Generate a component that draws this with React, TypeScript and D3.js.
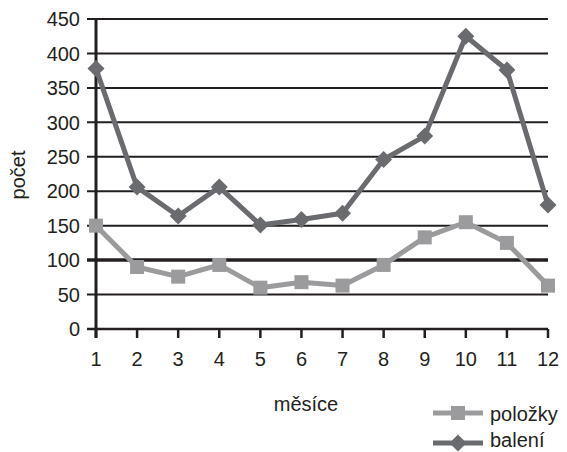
import React from "react";
import * as d3 from "d3";

const months = [1, 2, 3, 4, 5, 6, 7, 8, 9, 10, 11, 12];
const polozky = [150, 90, 76, 93, 60, 68, 63, 93, 133, 155, 125, 63];
const baleni = [378, 206, 164, 206, 151, 159, 168, 246, 280, 425, 376, 180];
const yTicks = [0, 50, 100, 150, 200, 250, 300, 350, 400, 450];

const W = 567;
const H = 452;
const left = 96;
const right = 548;
const top = 19;
const bottom = 329;
const font = "'Liberation Sans', Arial, sans-serif";
const fs = 20;
const cLight = "#9b9b9d";
const cDark = "#6a6b6e";
const cGrid = "#231f20";

export default function App() {
  const x = d3.scaleLinear().domain([1, 12]).range([left, right]);
  const y = d3.scaleLinear().domain([0, 450]).range([bottom, top]);
  const line = d3
    .line<number>()
    .x((_, i) => x(months[i]))
    .y((d) => y(d));

  return (
    <svg
      width={W}
      height={H}
      style={{ position: "absolute", left: 0, top: 0, background: "#fff" }}
    >
      {yTicks.map((t) => (
        <g key={t}>
          <line
            x1={87}
            x2={right}
            y1={y(t)}
            y2={y(t)}
            stroke={cGrid}
            strokeWidth={t === 100 ? 3.5 : t === 0 ? 2.5 : 2}
          />
          <text
            x={80}
            y={y(t)}
            dy="0.36em"
            textAnchor="end"
            fontFamily={font}
            fontSize={fs}
            fill="#231f20"
          >
            {t}
          </text>
        </g>
      ))}
      <line x1={left} x2={left} y1={top} y2={bottom + 9} stroke={cGrid} strokeWidth={3} />
      {months.map((m) => (
        <g key={m}>
          <line x1={x(m)} x2={x(m)} y1={bottom} y2={bottom + 9} stroke={cGrid} strokeWidth={2.5} />
          <text
            x={x(m)}
            y={359}
            dy="0.36em"
            textAnchor="middle"
            fontFamily={font}
            fontSize={fs}
            fill="#231f20"
          >
            {m}
          </text>
        </g>
      ))}
      <path d={line(baleni) || ""} fill="none" stroke={cDark} strokeWidth={5} strokeLinejoin="round" />
      {baleni.map((v, i) => (
        <rect
          key={i}
          x={-6}
          y={-6}
          width={12}
          height={12}
          fill={cDark}
          transform={`translate(${x(months[i])},${y(v)}) rotate(45)`}
        />
      ))}
      <path d={line(polozky) || ""} fill="none" stroke={cLight} strokeWidth={5} strokeLinejoin="round" />
      {polozky.map((v, i) => (
        <rect key={i} x={x(months[i]) - 7} y={y(v) - 7} width={14} height={14} fill={cLight} />
      ))}
      <text
        x={18}
        y={175}
        transform="rotate(-90 18 175)"
        textAnchor="middle"
        dy="0.36em"
        fontFamily={font}
        fontSize={fs}
        fill="#231f20"
      >
        počet
      </text>
      <text x={306} y={404} textAnchor="middle" dy="0.36em" fontFamily={font} fontSize={fs} fill="#231f20">
        měsíce
      </text>
      <line x1={433} x2={483} y1={413} y2={413} stroke={cLight} strokeWidth={5} />
      <rect x={451} y={406} width={14} height={14} fill={cLight} />
      <text x={490} y={414} dy="0.36em" fontFamily={font} fontSize={fs} fill="#231f20">
        položky
      </text>
      <line x1={433} x2={483} y1={443} y2={443} stroke={cDark} strokeWidth={5} />
      <rect x={-6} y={-6} width={12} height={12} fill={cDark} transform="translate(458,443) rotate(45)" />
      <text x={490} y={440} dy="0.36em" fontFamily={font} fontSize={fs} fill="#231f20">
        balení
      </text>
    </svg>
  );
}
